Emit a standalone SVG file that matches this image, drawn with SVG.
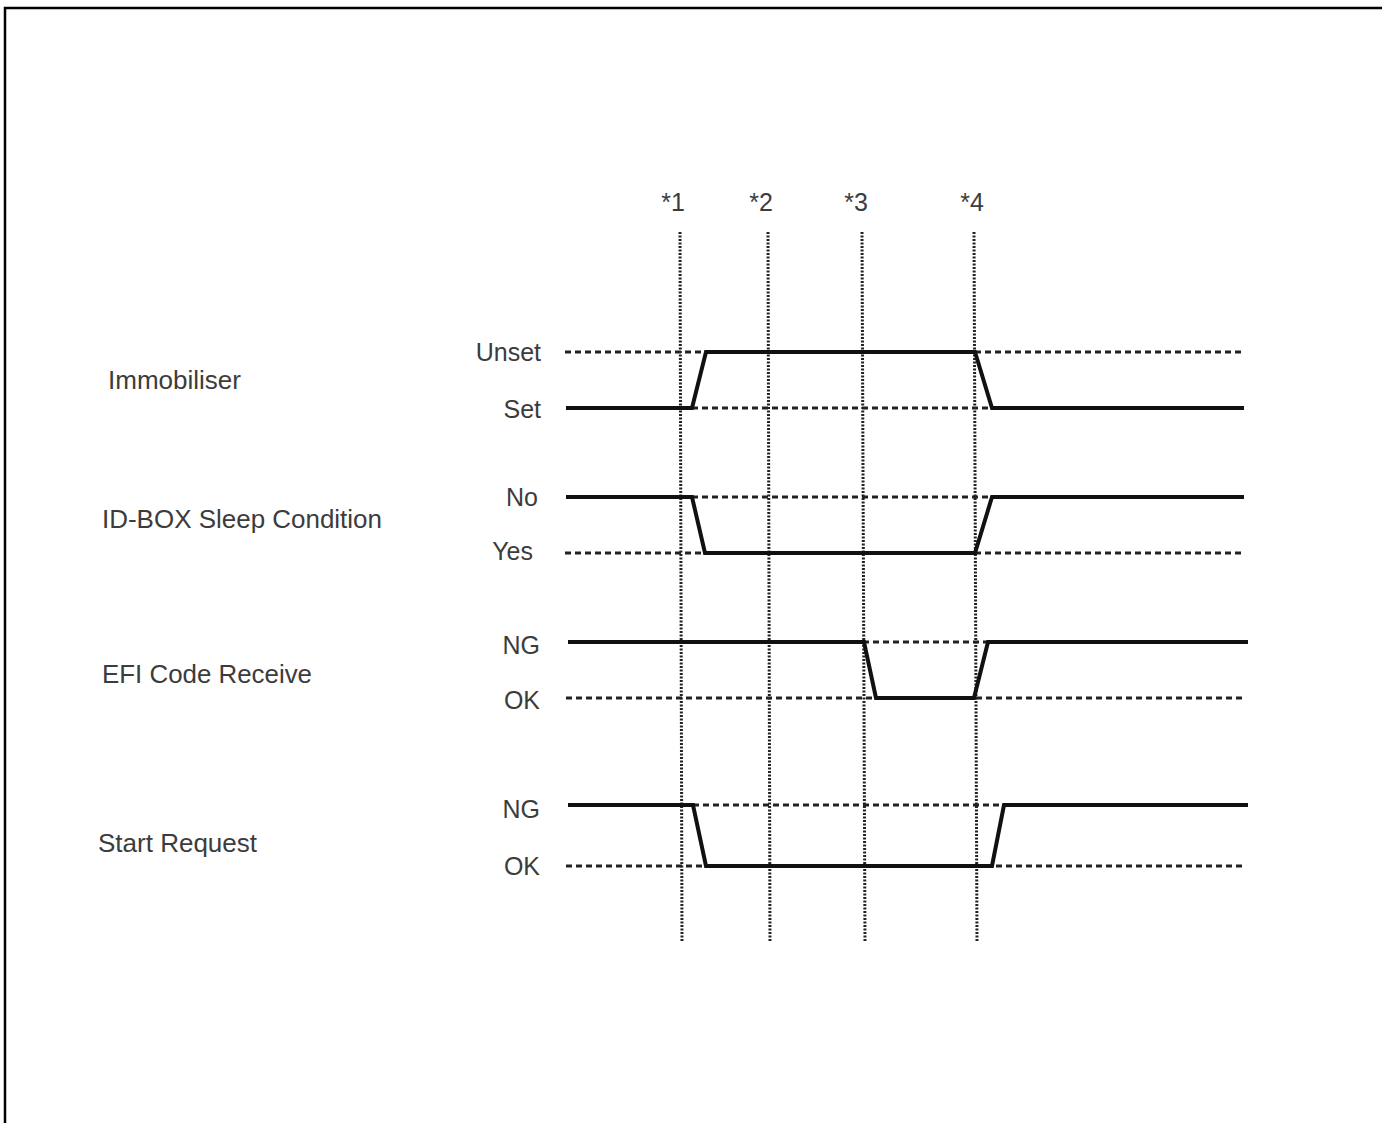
<svg xmlns="http://www.w3.org/2000/svg" width="1382" height="1123" viewBox="0 0 1382 1123">
<style>
.t{font-family:"Liberation Sans",Arial,sans-serif;font-size:25px;fill:#3c3c3c}
.r{text-anchor:end}
.m{text-anchor:middle}
.sig{fill:none;stroke:#111;stroke-width:4;stroke-linejoin:miter}
.ref{fill:none;stroke:#222;stroke-width:3;stroke-dasharray:6 4}
.tm{fill:none;stroke:#222;stroke-width:3;stroke-dasharray:2 1.5}
</style>
<rect width="1382" height="1123" fill="#fff"/>
<path d="M5 1123 V8 H1382" fill="none" stroke="#000" stroke-width="2.5"/>
<g id="time-markers">
<text class="t m" x="673" y="211">*1</text>
<text class="t m" x="761" y="211">*2</text>
<text class="t m" x="856" y="211">*3</text>
<text class="t m" x="972" y="211">*4</text>
<line class="tm" x1="680" y1="232" x2="682" y2="942"/>
<line class="tm" x1="768" y1="232" x2="770" y2="942"/>
<line class="tm" x1="862" y1="232" x2="865" y2="942"/>
<line class="tm" x1="974" y1="232" x2="977" y2="942"/>
</g>
<g id="immobiliser">
<text class="t" x="108" y="389" textLength="133" lengthAdjust="spacingAndGlyphs">Immobiliser</text>
<text class="t r" x="541" y="361">Unset</text>
<text class="t r" x="541" y="418">Set</text>
<line class="ref" x1="565" y1="352" x2="1242" y2="352"/>
<line class="ref" x1="692" y1="408" x2="990" y2="408"/>
<polyline class="sig" points="566,408 692,408 706,352 975,352 992,408 1244,408"/>
</g>
<g id="id-box">
<text class="t" x="102" y="528" textLength="280" lengthAdjust="spacingAndGlyphs">ID-BOX Sleep Condition</text>
<text class="t r" x="538" y="506">No</text>
<text class="t r" x="533" y="560">Yes</text>
<line class="ref" x1="692" y1="497" x2="992" y2="497"/>
<line class="ref" x1="565" y1="553" x2="1242" y2="553"/>
<polyline class="sig" points="566,497 692,497 705,553 975,553 992,497 1244,497"/>
</g>
<g id="efi">
<text class="t" x="102" y="683" textLength="210" lengthAdjust="spacingAndGlyphs">EFI Code Receive</text>
<text class="t r" x="540" y="654">NG</text>
<text class="t r" x="540" y="709">OK</text>
<line class="ref" x1="863" y1="642" x2="988" y2="642"/>
<line class="ref" x1="566" y1="698" x2="1242" y2="698"/>
<polyline class="sig" points="568,642 864,642 876,698 974,698 988,642 1248,642"/>
</g>
<g id="start-request">
<text class="t" x="98" y="852" textLength="159" lengthAdjust="spacingAndGlyphs">Start Request</text>
<text class="t r" x="540" y="818">NG</text>
<text class="t r" x="540" y="875">OK</text>
<line class="ref" x1="693" y1="805" x2="1004" y2="805"/>
<line class="ref" x1="566" y1="866" x2="1242" y2="866"/>
<polyline class="sig" points="568,805 693,805 706,866 992,866 1004,805 1248,805"/>
</g>
</svg>
